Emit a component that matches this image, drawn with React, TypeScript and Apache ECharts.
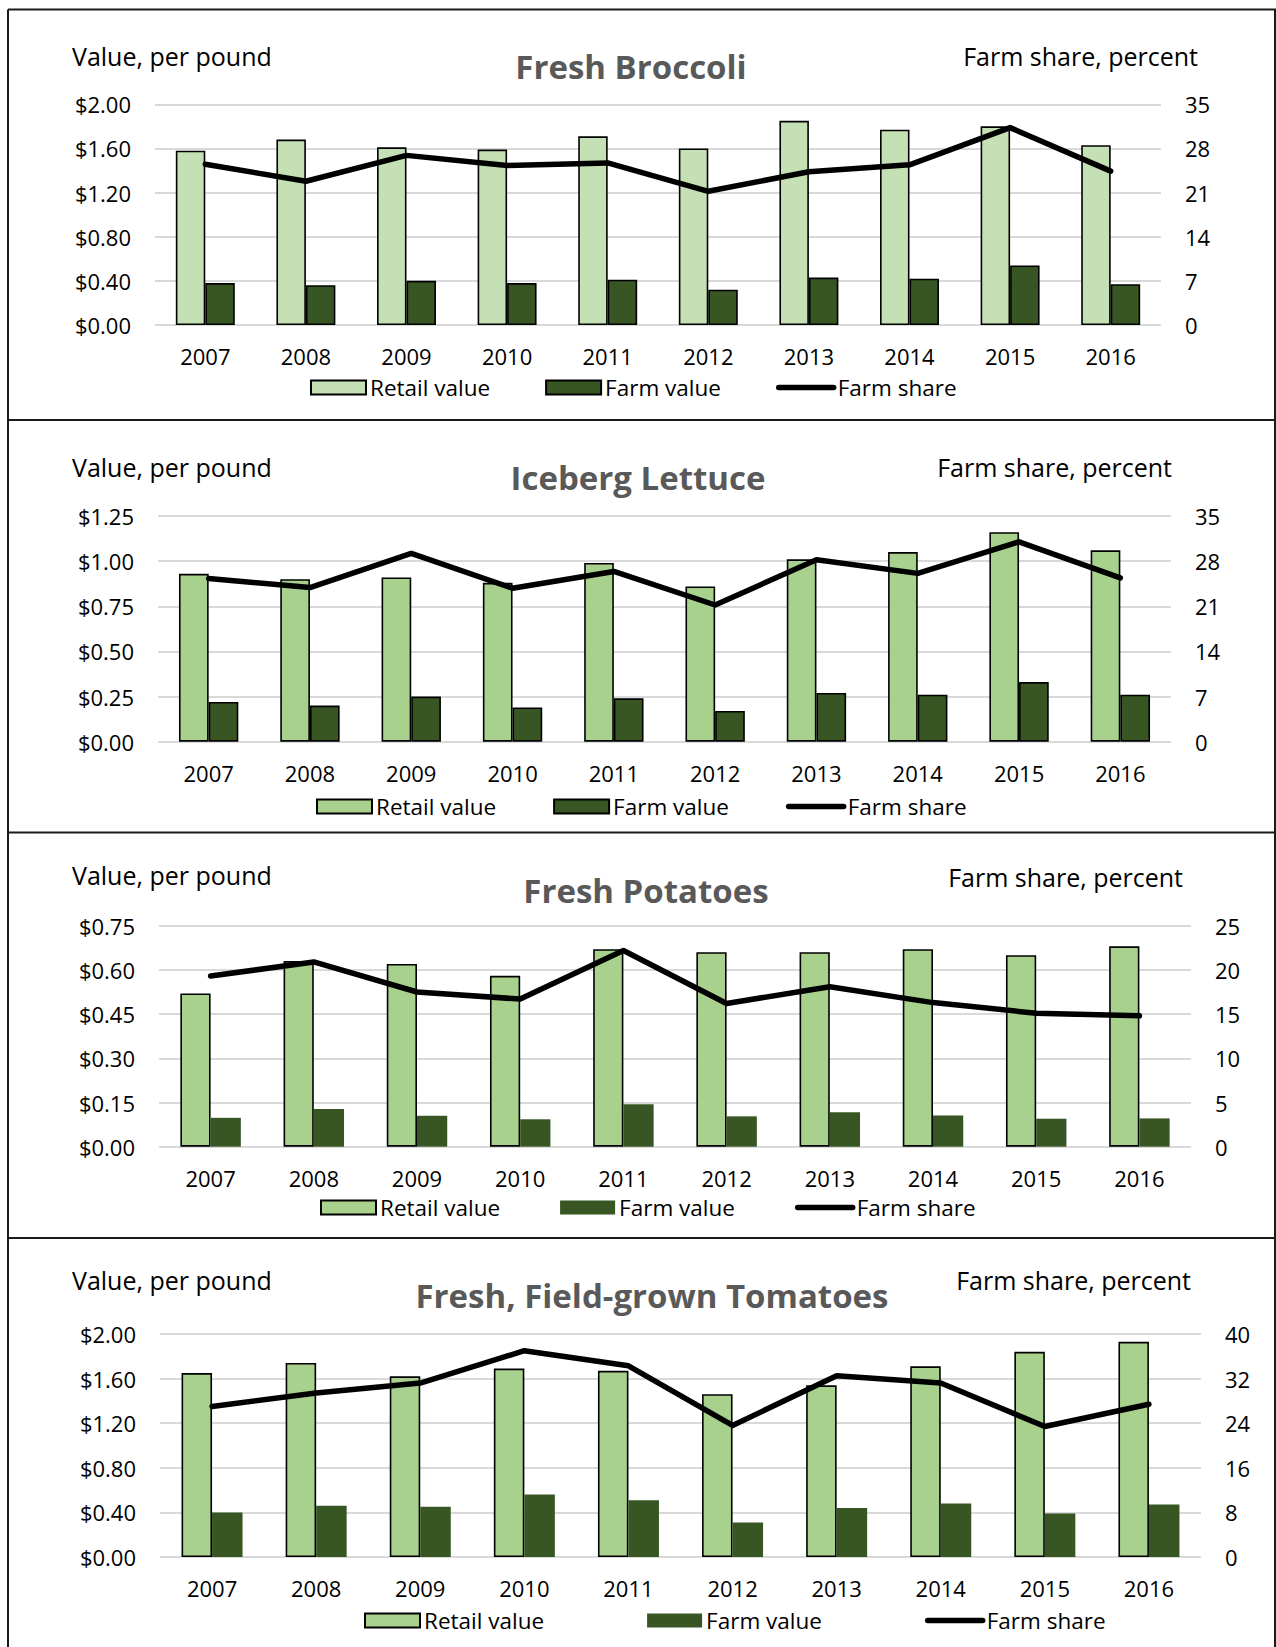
import React, { useEffect, useRef } from 'react';
import * as echarts from 'echarts';

// ---------- data ----------
const years = ['2007', '2008', '2009', '2010', '2011', '2012', '2013', '2014', '2015', '2016'];

const broccoliRetail = [1.58, 1.68, 1.61, 1.59, 1.71, 1.6, 1.85, 1.77, 1.8, 1.63];
const broccoliFarm = [0.38, 0.36, 0.4, 0.38, 0.41, 0.32, 0.43, 0.42, 0.54, 0.37];
const broccoliShare = [25.5, 22.8, 26.9, 25.3, 25.7, 21.2, 24.3, 25.4, 31.3, 24.4];

const lettuceRetail = [0.93, 0.9, 0.91, 0.88, 0.99, 0.86, 1.01, 1.05, 1.16, 1.06];
const lettuceFarm = [0.22, 0.2, 0.25, 0.19, 0.24, 0.17, 0.27, 0.26, 0.33, 0.26];
const lettuceShare = [25.3, 23.9, 29.2, 23.8, 26.4, 21.2, 28.2, 26.1, 31.0, 25.4];

const potatoRetail = [0.52, 0.63, 0.62, 0.58, 0.67, 0.66, 0.66, 0.67, 0.65, 0.68];
const potatoFarm = [0.098, 0.128, 0.105, 0.093, 0.144, 0.103, 0.117, 0.106, 0.095, 0.096];
const potatoShare = [19.3, 20.9, 17.5, 16.7, 22.2, 16.2, 18.1, 16.3, 15.1, 14.8];

const tomatoRetail = [1.65, 1.74, 1.62, 1.69, 1.67, 1.46, 1.54, 1.71, 1.84, 1.93];
const tomatoFarm = [0.4, 0.46, 0.45, 0.56, 0.51, 0.31, 0.44, 0.48, 0.39, 0.47];
const tomatoShare = [27.0, 29.4, 31.2, 37.0, 34.3, 23.6, 32.5, 31.2, 23.4, 27.4];

const titles = ['Fresh Broccoli', 'Iceberg Lettuce', 'Fresh Potatoes', 'Fresh, Field-grown Tomatoes'];
const leftAxisMax = [2.0, 1.25, 0.75, 2.0];
const leftAxisInterval = [0.4, 0.25, 0.15, 0.4];
const rightAxisMax = [35, 35, 25, 40];
const rightAxisInterval = [7, 7, 5, 8];

const leftAxisName = 'Value, per pound';
const rightAxisName = 'Farm share, percent';
const seriesNames = ['Retail value', 'Farm value', 'Farm share'];

// ---------- styling / layout ----------
const FONT = "'Open Sans', sans-serif";
const RETAIL_LIGHT = '#C5E0B4';
const RETAIL = '#A9D18E';
const FARM = '#375623';

const panels = [
  { retail: broccoliRetail, farm: broccoliFarm, share: broccoliShare, retailColor: RETAIL_LIGHT, farmBorder: true,
    l: 155, r: 1161, t: 104.3, b: 325, titleX: 631, titleY: 66, nameY: 56, shareRight: 1198, shareY: 56,
    legendLeft: 310, legendY: 388, legendGap: 55 },
  { retail: lettuceRetail, farm: lettuceFarm, share: lettuceShare, retailColor: RETAIL, farmBorder: true,
    l: 158, r: 1171, t: 516, b: 741.7, titleX: 638, titleY: 477, nameY: 467, shareRight: 1172, shareY: 467,
    legendLeft: 316, legendY: 807, legendGap: 57 },
  { retail: potatoRetail, farm: potatoFarm, share: potatoShare, retailColor: RETAIL, farmBorder: false,
    l: 159, r: 1191, t: 925.7, b: 1146.7, titleX: 646, titleY: 890, nameY: 875, shareRight: 1183, shareY: 877,
    legendLeft: 320, legendY: 1208, legendGap: 60 },
  { retail: tomatoRetail, farm: tomatoFarm, share: tomatoShare, retailColor: RETAIL, farmBorder: false,
    l: 160, r: 1201, t: 1334, b: 1557, titleX: 652, titleY: 1295, nameY: 1280, shareRight: 1191, shareY: 1280,
    legendLeft: 364, legendY: 1621, legendGap: 103 },
];

const W = 1276;
const H = 1647;

function buildOption() {
  const grid: any[] = [];
  const xAxis: any[] = [];
  const yAxis: any[] = [];
  const series: any[] = [];
  const legend: any[] = [];
  const graphic: any[] = [];

  panels.forEach((p, i) => {
    grid.push({ left: p.l, top: p.t, width: p.r - p.l, height: p.b - p.t });
    xAxis.push({
      type: 'category', gridIndex: i, data: years,
      axisLine: { show: false }, axisTick: { show: false },
      axisLabel: { margin: 20, fontSize: 22, color: '#000', fontFamily: FONT },
    });
    yAxis.push({
      type: 'value', gridIndex: i, position: 'left', min: 0, max: leftAxisMax[i], interval: leftAxisInterval[i],
      axisLine: { show: false }, axisTick: { show: false },
      axisLabel: { margin: 24, fontSize: 22, color: '#000', fontFamily: FONT, formatter: (v: number) => '$' + v.toFixed(2) },
      splitLine: { show: true, lineStyle: { color: '#D9D9D9', width: 2 } },
    });
    yAxis.push({
      type: 'value', gridIndex: i, position: 'right', min: 0, max: rightAxisMax[i], interval: rightAxisInterval[i],
      axisLine: { show: false }, axisTick: { show: false },
      axisLabel: { margin: 24, fontSize: 22, color: '#000', fontFamily: FONT },
      splitLine: { show: false },
    });
    const nm = seriesNames.map((s) => s + '|' + i);
    series.push({
      name: nm[0], type: 'bar', xAxisIndex: i, yAxisIndex: 2 * i, data: p.retail,
      barWidth: '29.3%', barGap: '0%',
      itemStyle: { color: p.retailColor, borderColor: '#000', borderWidth: 1.6 },
    });
    series.push({
      name: nm[1], type: 'bar', xAxisIndex: i, yAxisIndex: 2 * i, data: p.farm,
      barWidth: '29.3%', barGap: '0%',
      itemStyle: { color: FARM, borderColor: p.farmBorder ? '#000' : FARM, borderWidth: p.farmBorder ? 1.6 : 0 },
    });
    series.push({
      name: nm[2], type: 'line', xAxisIndex: i, yAxisIndex: 2 * i + 1, data: p.share,
      symbol: 'none', z: 5,
      lineStyle: { color: '#000', width: 5.5, cap: 'round', join: 'round' },
      itemStyle: { color: '#000' },
    });
    legend.push({
      left: p.legendLeft - 5, top: p.legendY - 17, orient: 'horizontal', padding: 5,
      itemWidth: 55, itemHeight: 14, itemGap: p.legendGap, selectedMode: false,
      data: [
        { name: nm[0], icon: 'rect' },
        { name: nm[1], icon: 'rect' },
        { name: nm[2], itemStyle: { opacity: 0 } },
      ],
      formatter: (n: string) => n.split('|')[0],
      textStyle: { fontSize: 22.5, color: '#000', fontFamily: FONT, padding: [0, 0, 0, -1] },
      lineStyle: { width: 5.5, cap: 'round' },
    });
    graphic.push({
      type: 'text', x: 72, y: p.nameY, silent: true,
      style: { text: leftAxisName, fontSize: 25, fontFamily: FONT, fill: '#000', align: 'left', verticalAlign: 'middle' },
    });
    graphic.push({
      type: 'text', x: p.shareRight, y: p.shareY, silent: true,
      style: { text: rightAxisName, fontSize: 25, fontFamily: FONT, fill: '#000', align: 'right', verticalAlign: 'middle' },
    });
    graphic.push({
      type: 'text', x: p.titleX, y: p.titleY, silent: true,
      style: { text: titles[i], fontSize: 33, fontWeight: 'bold', fontFamily: FONT, fill: '#595959', align: 'center', verticalAlign: 'middle' },
    });
  });

  const frame = { stroke: '#1a1a1a', lineWidth: 2 };
  graphic.push({ type: 'line', silent: true, shape: { x1: 8, y1: 9.5, x2: W, y2: 9.5 }, style: frame });
  graphic.push({ type: 'line', silent: true, shape: { x1: 8, y1: 9.5, x2: 8, y2: H }, style: frame });
  graphic.push({ type: 'line', silent: true, shape: { x1: 1275, y1: 9.5, x2: 1275, y2: H }, style: frame });
  [420, 832.5, 1238].forEach((y) => {
    graphic.push({ type: 'line', silent: true, shape: { x1: 8, y1: y, x2: W, y2: y }, style: frame });
  });

  return {
    animation: false,
    backgroundColor: '#fff',
    textStyle: { fontFamily: FONT },
    grid, xAxis, yAxis, series, legend, graphic,
  };
}

export default function App() {
  const ref = useRef<HTMLDivElement>(null);
  useEffect(() => {
    if (!ref.current) return;
    const chart = echarts.init(ref.current, undefined, { renderer: 'svg' });
    chart.setOption(buildOption() as any);
    return () => chart.dispose();
  }, []);
  return (
    <div
      ref={ref}
      style={{ position: 'absolute', left: 0, top: 0, width: W, height: H, background: '#fff' }}
    />
  );
}
